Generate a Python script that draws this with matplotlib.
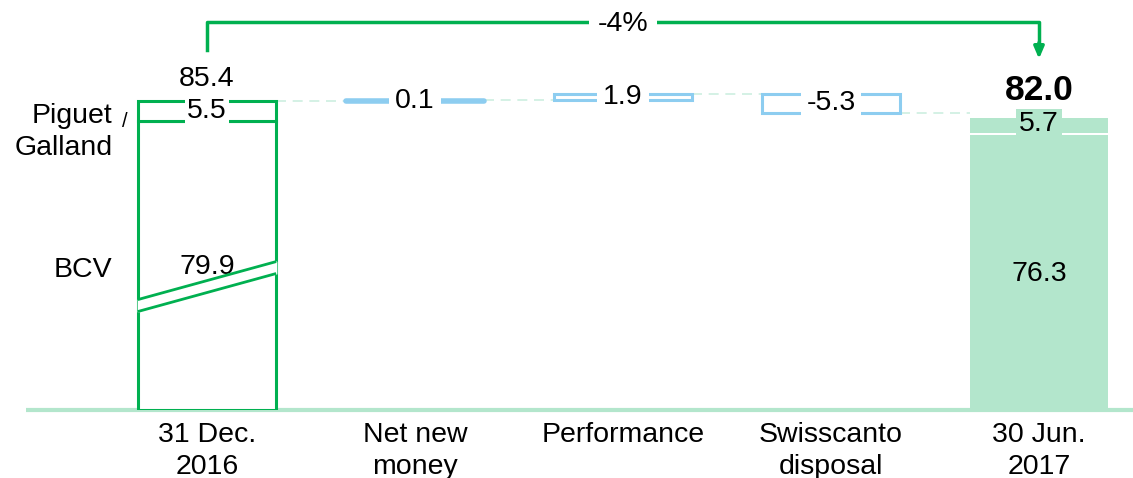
import matplotlib
matplotlib.use('Agg')
import matplotlib.pyplot as plt
import numpy as np

plt.rcParams['font.family'] = ['Liberation Sans', 'DejaVu Sans']

# data
categories = ['31 Dec.\n2016', 'Net new\nmoney', 'Performance', 'Swisscanto\ndisposal', '30 Jun.\n2017']
start_bcv = 79.9
start_pg = 5.5
start_total = 85.4
changes = [0.1, 1.9, -5.3]
change_labels = ['0.1', '1.9', '-5.3']
end_bcv = 76.3
end_pg = 5.7
end_total = 82.0
pct_label = '-4%'

GREEN = '#00B050'
LIGHT_GREEN = '#B3E6CC'
BLUE = '#8DCDF0'
DASH = '#CDEFE0'
FS = 20.5

fig = plt.figure(figsize=(11.33, 4.78), dpi=100)
ax = fig.add_axes([0, 1 - 410 / 478, 1, 410 / 478])
ppu = 3.62
ax.set_ylim(0, 410 / ppu)
ax.set_xlim(-207 / 208, (1133 - 207) / 208)
ax.axis('off')
w = 0.665
x = np.arange(len(categories))

# baseline
ax.plot([-0.87, 4.5], [0, 0], color=LIGHT_GREEN, lw=3, solid_capstyle='butt', clip_on=False, zorder=1)

# start bar (outline)
ax.bar(x[0], start_bcv, width=w, bottom=0, facecolor='white', edgecolor=GREEN, lw=2.2, zorder=3)
ax.bar(x[0], start_pg, width=w, bottom=start_bcv, facecolor='white', edgecolor=GREEN, lw=2.2, zorder=3)
ax.text(x[0], start_bcv + start_pg / 2, '5.5', ha='center', va='center', fontsize=FS, zorder=5,
        bbox=dict(boxstyle='square,pad=0.08', fc='white', ec='none'))
ax.text(x[0], start_total + 2.4, '85.4', ha='center', va='bottom', fontsize=FS, zorder=5)
ax.text(x[0], 39.5, '79.9', ha='center', va='center', fontsize=FS, zorder=4)

# axis break marks on the start bar
bx = np.array([x[0] - w / 2, x[0] + w / 2])
y1 = np.array([30.5, 41.0])
y2 = np.array([27.2, 37.7])
ax.fill_between(bx, y2, y1, color='white', zorder=4)
ax.plot(bx, y1, color=GREEN, lw=2, zorder=5, solid_capstyle='butt')
ax.plot(bx, y2, color=GREEN, lw=2, zorder=5, solid_capstyle='butt')

# side labels
ax.text(-0.455, 76.8, 'Piguet\nGalland', ha='right', va='center', fontsize=FS, linespacing=1.33)
ax.text(-0.395, 79.8, '/', ha='center', va='center', fontsize=FS - 6)
ax.text(-0.455, 38.6, 'BCV', ha='right', va='center', fontsize=FS)

# changes
level = start_total
prev_right = x[0] + w / 2
for i, (c, lab) in enumerate(zip(changes, change_labels)):
    xi = x[i + 1]
    ax.plot([prev_right, xi - w / 2], [level, level], color=DASH, lw=1.2, ls=(0, (6, 4)), zorder=1)
    lo = min(level, level + c)
    if abs(c) < 0.5:
        ax.plot([xi - w / 2, xi + w / 2], [level + c / 2] * 2, color=BLUE, lw=4,
                solid_capstyle='round', zorder=3)
    else:
        ax.bar(xi, abs(c), width=w, bottom=lo, facecolor='white', edgecolor=BLUE, lw=2.2, zorder=3)
    ax.text(xi, lo + abs(c) / 2, lab, ha='center', va='center', fontsize=FS, zorder=5,
            bbox=dict(boxstyle='square,pad=0.2', fc='white', ec='none'))
    level = level + c
    prev_right = xi + w / 2

ax.plot([prev_right, x[4] - w / 2], [level, level], color=DASH, lw=1.2, ls=(0, (6, 4)), zorder=1)

# end bar
ax.bar(x[4], end_bcv - 0.4, width=w, bottom=0, facecolor=LIGHT_GREEN, edgecolor='none', zorder=3)
ax.bar(x[4], end_pg - 1.5, width=w, bottom=end_bcv + 0.2, facecolor=LIGHT_GREEN, edgecolor='none', zorder=3)
ax.text(x[4], end_bcv + 2.6, '5.7', ha='center', va='center', fontsize=FS, zorder=5,
        bbox=dict(boxstyle='square,pad=0.1', fc=LIGHT_GREEN, ec='none'))
ax.text(x[4], end_bcv / 2 - 0.5, '76.3', ha='center', va='center', fontsize=FS, zorder=5)
ax.text(x[4], end_total + 1.8, '82.0', ha='center', va='bottom', fontsize=FS + 5, fontweight='bold', zorder=5)

# percent bracket
ytop = 107.2
ax.plot([x[0], x[0], x[4], x[4]], [99.4, ytop, ytop, 100.5], color=GREEN, lw=2.5, clip_on=False, zorder=2)
ax.annotate('', xy=(x[4], 97.0), xytext=(x[4], 101.5), zorder=3,
            arrowprops=dict(arrowstyle='-|>,head_length=0.7,head_width=0.3', color=GREEN, lw=2.5,
                            shrinkA=0, shrinkB=0))
ax.text((x[0] + x[4]) / 2, ytop - 0.6, pct_label, ha='center', va='center', fontsize=FS, zorder=5,
        bbox=dict(boxstyle='square,pad=0.3', fc='white', ec='none'))

# category labels
for xi, cat in zip(x, categories):
    ax.text(xi, -3.4, cat, ha='center', va='top', fontsize=FS, linespacing=1.27, clip_on=False)

fig.savefig('out.png', dpi=100)
